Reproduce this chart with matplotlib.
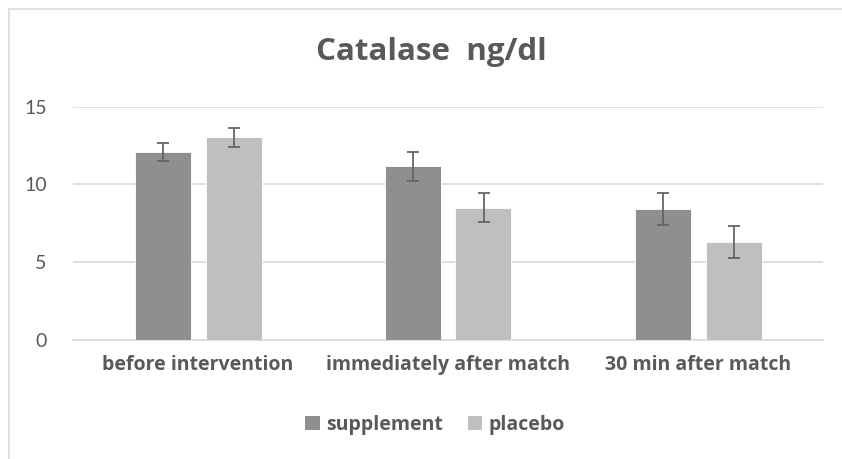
import matplotlib
matplotlib.use("Agg")
import matplotlib.pyplot as plt
import numpy as np
from matplotlib.patches import Patch
from matplotlib.lines import Line2D

categories = ["before intervention", "immediately after match", "30 min after match"]
series_names = ["supplement", "placebo"]
supplement = [12.09, 11.17, 8.40]
supplement_err = [0.58, 0.94, 1.03]
placebo = [13.03, 8.51, 6.28]
placebo_err = [0.60, 0.95, 1.03]
yticks = [0, 5, 10, 15]
title = "Catalase  ng/dl"

FONT = ["Open Sans", "DejaVu Sans"]
FONT_TICK = ["Lato", "DejaVu Sans"]
TXT = "#595959"
C_SUP = "#8f8f8f"
C_PLA = "#bfbfbf"

W, H = 842, 459
fig = plt.figure(figsize=(W / 100, H / 100), dpi=100)
fig.patch.set_facecolor("white")

# chart border (light gray, top & left visible)
fig.add_artist(Line2D([8.5 / W, 8.5 / W], [0, 1 - 8.5 / H], transform=fig.transFigure,
                      color="#d9d9d9", lw=1.2))
fig.add_artist(Line2D([8.5 / W, 1], [1 - 8.5 / H, 1 - 8.5 / H], transform=fig.transFigure,
                      color="#d9d9d9", lw=1.2))

left, right = 73 / W, 823 / W
bottom, top = (H - 340) / H, (H - 106.7) / H
ax = fig.add_axes([left, bottom, right - left, top - bottom])

x = np.arange(len(categories))
bw = 0.224
off = 0.142
err_kw = dict(ecolor="#666666", elinewidth=1.3, capsize=4.5, capthick=1.3)
ax.bar(x - off, supplement, bw, color=C_SUP, edgecolor="white", linewidth=0.6,
       yerr=supplement_err, error_kw=err_kw, zorder=3, label=series_names[0])
ax.bar(x + off, placebo, bw, color=C_PLA, edgecolor="white", linewidth=0.6,
       yerr=placebo_err, error_kw=err_kw, zorder=3, label=series_names[1])

ax.set_xlim(-0.5, len(categories) - 0.5)
ax.set_ylim(0, 15)
ax.set_yticks(yticks)
ax.yaxis.grid(True, color="#d9d9d9", linewidth=1.2, zorder=0)
ax.set_axisbelow(True)
for s in ["top", "right", "left"]:
    ax.spines[s].set_visible(False)
ax.spines["bottom"].set_color("#d9d9d9")
ax.spines["bottom"].set_linewidth(1.2)
ax.tick_params(axis="both", length=0)
ax.tick_params(axis="y", pad=19)
ax.tick_params(axis="x", pad=11)
ax.set_xticks(x)
ax.set_xticklabels(categories)
for lab in ax.get_yticklabels():
    lab.set_family(FONT_TICK)
    lab.set_fontsize(14)
    lab.set_color(TXT)
for lab in ax.get_xticklabels():
    lab.set_family(FONT)
    lab.set_fontsize(14)
    lab.set_fontweight("bold")
    lab.set_color(TXT)

fig.text(431 / W, 1 - 52 / H, title, ha="center", va="center", family=FONT,
         fontsize=22.5, fontweight="bold", color=TXT)

handles = [Patch(facecolor=C_SUP, edgecolor="none"), Patch(facecolor=C_PLA, edgecolor="none")]
leg = fig.legend(handles, series_names, loc="center", bbox_to_anchor=(435 / W, 1 - 425 / H),
                 ncol=2, frameon=False, handlelength=0.75, handleheight=0.75,
                 handletextpad=0.3, columnspacing=1.3,
                 prop={"family": FONT, "size": 14, "weight": "bold"})
for t in leg.get_texts():
    t.set_color(TXT)

fig.savefig("out.png", dpi=100, facecolor="white")
